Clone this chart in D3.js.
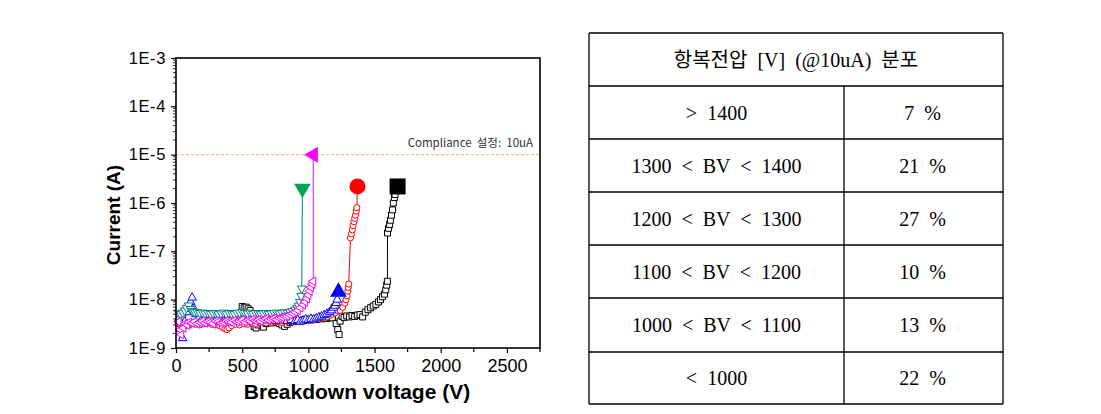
<!DOCTYPE html>
<html><head><meta charset="utf-8">
<script src="https://cdn.jsdelivr.net/npm/d3@7"></script>
<style>body{margin:0;background:#fff}svg{display:block}text{white-space:pre}</style>
</head><body><svg id="c" width="1101" height="414"></svg>
<script>
// ---------- DATA ----------
const xTickValues = [0, 500, 1000, 1500, 2000, 2500];
const xMinorValues = [250, 750, 1250, 1750, 2250, 2750];
const yTickValues = [1e-9, 1e-8, 1e-7, 1e-6, 1e-5, 1e-4, 1e-3];
const yTickLabels = ["1E-9", "1E-8", "1E-7", "1E-6", "1E-5", "1E-4", "1E-3"];
const complianceCurrent = 1e-5;
const complianceLabel = "Compliance  설정:  10uA";

// currents in nA
const blackV = [500,515,530,545,560,575,590,605,620,640,660,680,700,720,740,760,780,800,820,840,860,880,900,920,940,960,980,1000,1020,1040,1060,1080,1100,1120,1140,1160,1180,1195,1210,1222,1232,1240,1255,1270,1290,1310,1330,1350,1370,1390,1410,1430,1450,1470,1490,1510,1530,1545,1560,1575,1585,1592,1597,1598,1606,1614,1620,1628,1636,1642,1650,1655];
const blackI = [7.2,6.8,7.0,6.5,6.0,4.5,2.8,2.6,3.0,3.3,2.7,3.2,3.4,3.3,3.5,3.4,3.2,3.0,2.8,3.1,3.4,3.5,3.6,3.7,3.6,3.8,3.7,3.9,3.8,4.0,3.9,4.1,4.0,4.2,4.1,4.3,4.2,7.0,3.2,2.4,1.9,3.6,4.5,4.3,4.6,4.4,4.7,4.5,4.8,4.9,4.4,5.5,6.2,6.8,7.4,8.0,9.0,10,11.5,13,16,20,24,240,300,360,440,560,720,1000,1300,1500];
const redV = [20,35,50,65,80,100,120,150,180,210,240,270,300,330,350,370,385,400,420,450,480,510,540,570,600,640,680,720,760,800,840,880,920,960,1000,1040,1080,1110,1140,1170,1200,1220,1240,1260,1275,1285,1292,1298,1302,1305,1318,1325,1332,1338,1344,1350,1356,1362,1366];
const redI = [3.2,3.0,2.6,2.8,3.3,3.0,3.2,3.1,3.0,3.2,3.3,3.1,3.0,2.9,2.7,2.5,2.4,2.6,2.9,3.1,3.0,3.2,3.1,3.3,3.2,3.4,3.3,3.4,3.5,3.4,3.6,3.5,3.7,3.8,3.7,3.9,4.0,4.2,4.4,4.8,5.3,6.0,6.0,7.0,8.5,10,12,15,18,21,190,230,280,340,410,480,560,680,800];
const blueV = [20,35,50,65,80,95,110,122,135,150,170,190,210,240,270,300,330,360,390,420,450,480,510,540,570,600,630,660,690,720,750,780,810,840,870,900,920,940,960,980,1000,1020,1040,1060,1080,1100,1120,1140,1160,1175,1190,1200,1210,1218];
const blueI = [4.0,2.5,1.6,3.5,5.5,6.5,9.0,11,6.5,5.0,4.2,3.8,4.0,3.7,3.9,3.8,4.0,3.6,3.8,3.9,3.7,4.0,3.8,3.9,3.7,4.0,3.8,3.9,3.7,3.8,3.6,3.9,3.7,3.6,3.8,3.6,3.8,3.5,3.7,3.9,3.8,4.0,3.9,4.1,4.3,4.5,4.8,5.1,5.5,6.0,6.8,7.5,8.5,10];
const tealV = [20,35,50,65,80,95,110,125,140,160,180,200,220,240,260,280,300,320,340,360,380,400,420,440,460,480,500,520,540,560,580,600,620,640,660,680,700,720,740,760,780,800,820,840,860,880,900,915,925,935,945,950];
const tealI = [5.2,5.0,5.4,6.0,6.8,7.6,6.4,5.8,5.6,5.5,5.3,5.4,5.2,5.3,5.1,5.2,5.3,5.0,5.2,5.4,5.1,5.3,5.2,5.1,5.3,5.4,5.6,5.3,5.2,5.4,5.1,5.3,5.2,5.0,5.2,5.3,5.1,5.2,5.3,5.4,5.2,5.3,5.5,5.4,5.6,5.8,6.2,6.8,7.5,9.0,12,17];
const magV = [20,30,40,55,70,85,100,120,140,160,180,200,220,240,260,280,300,320,340,360,380,400,420,440,460,480,500,520,540,560,580,600,620,640,660,680,700,720,740,760,780,800,820,840,860,880,900,920,940,960,975,990,1000,1010,1020,1030,1037];
const magI = [3.5,2.4,1.9,2.6,3.2,3.0,3.4,3.3,3.5,3.2,3.4,3.6,3.3,3.5,3.4,3.2,3.6,3.5,3.3,3.4,3.6,3.5,3.4,3.7,3.5,3.6,3.8,3.5,3.7,3.6,3.9,3.7,3.8,3.6,3.9,4.0,3.8,4.0,4.1,3.9,4.2,4.3,4.5,4.6,4.9,5.2,5.6,6.0,6.8,7.8,9.0,10.5,12.5,15,18,21,24];

// breakdown points (V, A)
const breakdownV = [1674, 1371, 1227, 955, 1037];
const breakdownI = [2.2e-6, 2.2e-6, 1.45e-8, 2.0e-6, 1.0e-5];

const tableHeader = "항복전압  [V]  (@10uA)  분포";
const rangeLabels = [">  1400", "1300  <  BV  <  1400", "1200  <  BV  <  1300", "1100  <  BV  <  1200", "1000  <  BV  <  1100", "<  1000"];
const percentLabels = ["7  %", "21  %", "27  %", "10  %", "13  %", "22  %"];

// ---------- CHART ----------
const svg = d3.select("#c");
const X0 = 176, X1 = 540, Y0 = 348, Y1 = 58;
const x = d3.scaleLinear().domain([0, 2750]).range([X0, X1]);
const y = d3.scaleLog().domain([1e-9, 1e-3]).range([Y0, Y1]);

// compliance line
svg.append("line").attr("x1", X0).attr("x2", X1)
  .attr("y1", y(complianceCurrent)).attr("y2", y(complianceCurrent))
  .attr("stroke", "#f4b183").attr("stroke-width", 1).attr("stroke-dasharray", "3,2");
svg.append("text").text(complianceLabel)
  .attr("x", 533).attr("y", y(complianceCurrent) - 8)
  .attr("text-anchor", "end").attr("font-family", "'Noto Sans CJK KR', sans-serif")
  .attr("font-size", 11.5).attr("fill", "#333");

const series = [
  {V: blackV, I: blackI, color: "#000000", sym: d3.symbolSquare, size: 36, rot: 0, fillBig: "#000000", bigSym: d3.symbolSquare, bigSize: 256},
  {V: redV, I: redI, color: "#ff0000", sym: d3.symbolCircle, size: 30, rot: 0, fillBig: "#ff0000", bigSym: d3.symbolCircle, bigSize: 200},
  {V: blueV, I: blueI, color: "#0000ff", sym: d3.symbolTriangle, size: 32, rot: 0, fillBig: "#0000ff", bigSym: d3.symbolTriangle, bigSize: 120},
  {V: tealV, I: tealI, color: "#008080", sym: d3.symbolTriangle, size: 32, rot: 180, fillBig: "#00a651", bigSym: d3.symbolTriangle, bigSize: 120},
  {V: magV, I: magI, color: "#ff00ff", sym: d3.symbolTriangle, size: 32, rot: -90, fillBig: "#ff00ff", bigSym: d3.symbolTriangle, bigSize: 110}
];

const line = d3.line().x(d => x(d[0])).y(d => y(d[1]));
const gData = svg.append("g");
series.forEach((s, k) => {
  const pts = s.V.map((v, i) => [v, s.I[i] * 1e-9]);
  const all = pts.concat([[breakdownV[k], breakdownI[k]]]);
  const g = gData.append("g");
  g.append("path").datum(all).attr("d", line).attr("fill", "none")
    .attr("stroke", s.color).attr("stroke-width", 1);
  g.selectAll("path.m").data(pts).join("path").attr("class", "m")
    .attr("d", d3.symbol().type(s.sym).size(s.size))
    .attr("transform", d => `translate(${x(d[0])},${y(d[1])}) rotate(${s.rot})`)
    .attr("fill", "#fff").attr("stroke", s.color).attr("stroke-width", 1);
});
series.forEach((s, k) => {
  gData.append("path")
    .attr("d", d3.symbol().type(s.bigSym).size(s.bigSize))
    .attr("transform", `translate(${x(breakdownV[k])},${y(breakdownI[k])}) rotate(${s.rot})`)
    .attr("fill", s.fillBig);
});

// axes
const axX = d3.axisBottom(x).tickValues(xTickValues).tickSize(5).tickSizeOuter(0).tickPadding(6)
  .tickFormat(d3.format("d"));
const gx = svg.append("g").attr("transform", `translate(0,${Y0})`).call(axX);
gx.select(".domain").remove();
gx.selectAll("text").attr("font-family", "Arial, 'Liberation Sans', sans-serif").attr("font-size", 18).attr("fill", "#000");
gx.selectAll("line").attr("stroke", "#000").attr("stroke-width", 1.2);
svg.append("g").selectAll("line").data(xMinorValues).join("line")
  .attr("x1", d => x(d)).attr("x2", d => x(d)).attr("y1", Y0).attr("y2", Y0 + 4)
  .attr("stroke", "#000").attr("stroke-width", 1.2);

const axY = d3.axisLeft(y).tickValues(yTickValues).tickSize(5).tickSizeOuter(0).tickPadding(5)
  .tickFormat((d, i) => yTickLabels[i]);
const gy = svg.append("g").attr("transform", `translate(${X0},0)`).call(axY);
gy.select(".domain").remove();
gy.selectAll("text").attr("font-family", "Arial, 'Liberation Sans', sans-serif").attr("font-size", 16.5)
  .attr("letter-spacing", 0.6).attr("fill", "#000");
gy.selectAll("line").attr("stroke", "#000").attr("stroke-width", 1.2);
const yMinor = [];
for (let e = -9; e < -3; e++) for (let m = 2; m <= 9; m++) yMinor.push(m * Math.pow(10, e));
svg.append("g").selectAll("line").data(yMinor).join("line")
  .attr("x1", X0 - 3).attr("x2", X0).attr("y1", d => y(d)).attr("y2", d => y(d))
  .attr("stroke", "#000").attr("stroke-width", 0.8);

// frame
svg.append("rect").attr("x", X0).attr("y", Y1).attr("width", X1 - X0).attr("height", Y0 - Y1)
  .attr("fill", "none").attr("stroke", "#000").attr("stroke-width", 1.6);

// axis titles
svg.append("text").text("Breakdown voltage (V)")
  .attr("x", 357).attr("y", 399).attr("text-anchor", "middle")
  .attr("font-family", "Arial, 'Liberation Sans', sans-serif").attr("font-weight", "bold").attr("font-size", 21);
svg.append("text").text("Current (A)")
  .attr("transform", "translate(120,215) rotate(-90)").attr("text-anchor", "middle")
  .attr("font-family", "Arial, 'Liberation Sans', sans-serif").attr("font-weight", "bold").attr("font-size", 19);

// ---------- TABLE ----------
const TL = 589, TR = 1003, TC = 844;
const rowTops = [33, 86, 139, 192, 245, 298, 352, 404];
const tg = svg.append("g");
rowTops.forEach(yy => tg.append("line").attr("x1", TL).attr("x2", TR).attr("y1", yy).attr("y2", yy)
  .attr("stroke", "#000").attr("stroke-width", 1.3));
tg.append("line").attr("x1", TL).attr("x2", TL).attr("y1", rowTops[0]).attr("y2", rowTops[7]).attr("stroke", "#000").attr("stroke-width", 1.3);
tg.append("line").attr("x1", TR).attr("x2", TR).attr("y1", rowTops[0]).attr("y2", rowTops[7]).attr("stroke", "#000").attr("stroke-width", 1.3);
tg.append("line").attr("x1", TC).attr("x2", TC).attr("y1", rowTops[1]).attr("y2", rowTops[7]).attr("stroke", "#000").attr("stroke-width", 1.3);
const tfont = "'Liberation Serif', 'Noto Sans CJK KR', serif";
tg.append("text").text(tableHeader).attr("x", (TL + TR) / 2).attr("y", (rowTops[0] + rowTops[1]) / 2 + 7)
  .attr("text-anchor", "middle").attr("font-family", tfont).attr("font-size", 20);
rangeLabels.forEach((t, i) => {
  const cy = (rowTops[i + 1] + rowTops[i + 2]) / 2 + 7;
  tg.append("text").text(t).attr("x", (TL + TC) / 2).attr("y", cy).attr("text-anchor", "middle")
    .attr("font-family", tfont).attr("font-size", 20);
  tg.append("text").text(percentLabels[i]).attr("x", (TC + TR) / 2 - 1).attr("y", cy).attr("text-anchor", "middle")
    .attr("font-family", tfont).attr("font-size", 20);
});
</script>
</body></html>
